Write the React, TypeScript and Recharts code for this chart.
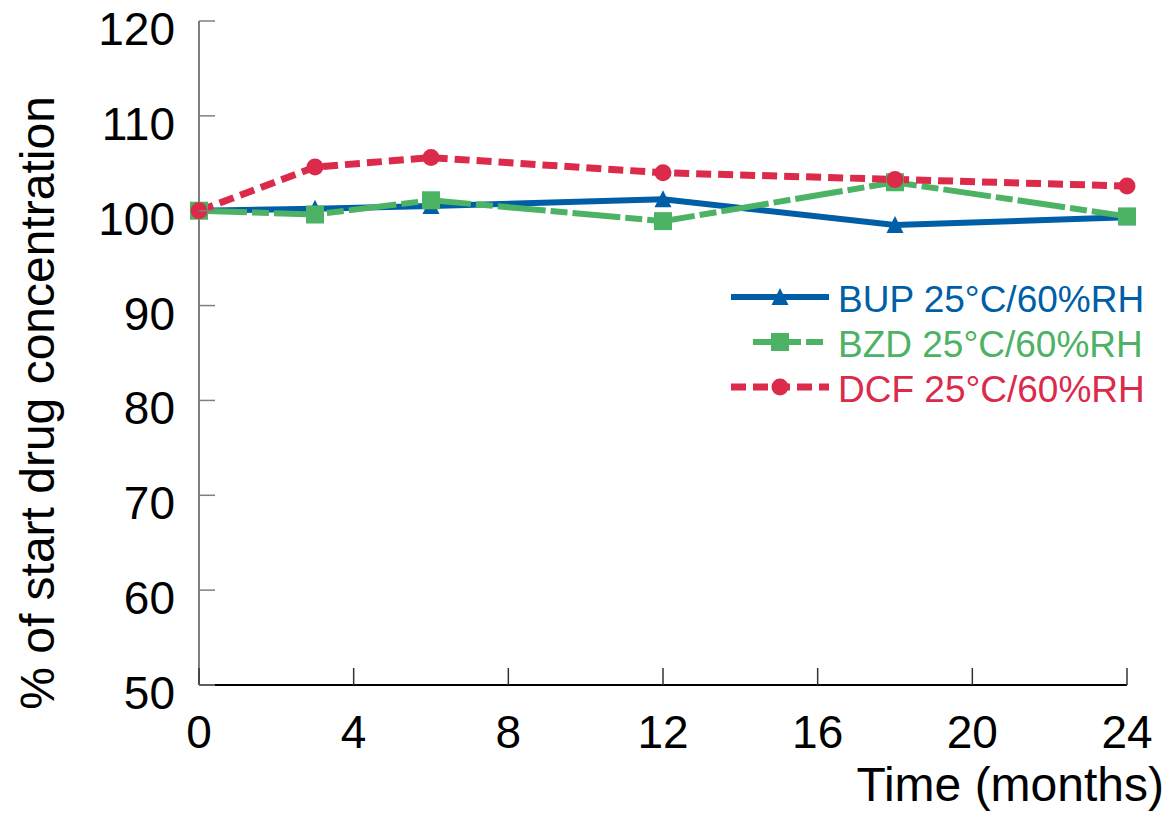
import { LineChart, Line, XAxis, YAxis, Legend } from "recharts";

const months = [0, 3, 6, 12, 18, 24];
const bup = [100, 100.2, 100.5, 101.2, 98.5, 99.3];
const bzd = [100, 99.6, 101.1, 98.9, 103.0, 99.4];
const dcf = [100, 104.6, 105.6, 104.0, 103.3, 102.6];

const xTicks = [0, 4, 8, 12, 16, 20, 24];
const yTicks = [50, 60, 70, 80, 90, 100, 110, 120];

const FONT = "'Liberation Sans', Arial, sans-serif";

const series = [
  { key: "bup", name: "BUP 25°C/60%RH", color: "#005EA6", dash: undefined, width: 6, shape: "triangle" },
  { key: "bzd", name: "BZD 25°C/60%RH", color: "#4CB264", dash: "48 5 17 5", width: 6, shape: "square" },
  { key: "dcf", name: "DCF 25°C/60%RH", color: "#DB2A4A", dash: "15 7", width: 7, shape: "circle" },
];

const data = months.map((m, i) => ({ month: m, bup: bup[i], bzd: bzd[i], dcf: dcf[i] }));

function Marker({ cx, cy, shape, color }: any) {
  if (shape === "triangle") {
    return (
      <polygon
        points={`${cx},${cy - 9} ${cx + 8.5},${cy + 8} ${cx - 8.5},${cy + 8}`}
        fill={color}
      />
    );
  }
  if (shape === "square") {
    return <rect x={cx - 9} y={cy - 9} width={18} height={18} fill={color} />;
  }
  return <circle cx={cx} cy={cy} r={8.5} fill={color} />;
}

const YTick = ({ x, y, payload }: any) => (
  <g>
    <line x1={x} x2={x + 16} y1={y} y2={y} stroke="#7f7f7f" strokeWidth={1.5} />
    <text x={x - 24} y={y + 24} textAnchor="end" fontSize={46} fontFamily={FONT} fill="#000">
      {payload.value}
    </text>
  </g>
);

const XTick = ({ x, y, payload }: any) => (
  <g>
    <line x1={x} x2={x} y1={y} y2={y - 17} stroke="#333" strokeWidth={1.5} />
    <text x={x} y={y + 63} textAnchor="middle" fontSize={46} fontFamily={FONT} fill="#000">
      {payload.value}
    </text>
  </g>
);

function LegendContent() {
  return (
    <svg width={450} height={140}>
      {series.map((s, i) => {
        const cy = 27 + i * 45;
        const x1 = s.shape === "square" ? 33 : 11;
        const x2 = s.shape === "square" ? 104 : 109;
        return (
          <g key={s.key}>
            <line
              x1={x1}
              x2={x2}
              y1={cy}
              y2={cy}
              stroke={s.color}
              strokeWidth={s.width}
              strokeDasharray={s.dash}
            />
            <Marker cx={60} cy={cy} shape={s.shape} color={s.color} />
            <text x={118} y={cy + 15} fontSize={37} fontFamily={FONT} fill={s.color}>
              {s.name}
            </text>
          </g>
        );
      })}
    </svg>
  );
}

export default function App() {
  return (
    <div style={{ position: "absolute", left: 0, top: 0 }}>
      <LineChart
        width={1171}
        height={819}
        data={data}
        margin={{ top: 21, right: 44, bottom: 0, left: 0 }}
      >
        <XAxis
          dataKey="month"
          type="number"
          domain={[0, 24]}
          ticks={xTicks}
          height={134}
          tickSize={0}
          tickMargin={0}
          tickLine={false}
          tick={<XTick />}
          axisLine={{ stroke: "#000", strokeWidth: 2 }}
          label={{
            content: () => (
              <text x={1164} y={801} textAnchor="end" fontSize={48} fontFamily={FONT} fill="#000">
                Time (months)
              </text>
            ),
          }}
        />
        <YAxis
          type="number"
          domain={[50, 120]}
          ticks={yTicks}
          width={199}
          tickSize={0}
          tickMargin={0}
          tickLine={false}
          tick={<YTick />}
          axisLine={{ stroke: "#7f7f7f", strokeWidth: 2 }}
          label={{
            content: () => (
              <text
                x={54}
                y={403}
                transform="rotate(-90, 54, 403)"
                textAnchor="middle"
                fontSize={48}
                fontFamily={FONT}
                fill="#000"
              >
                % of start drug concentration
              </text>
            ),
          }}
        />
        <Legend
          layout="vertical"
          align="center"
          verticalAlign="middle"
          wrapperStyle={{ left: 720, top: 270, width: 450, height: 140 }}
          content={<LegendContent />}
        />
        {series.map((s) => (
          <Line
            key={s.key}
            type="linear"
            dataKey={s.key}
            name={s.name}
            stroke={s.color}
            strokeWidth={s.width}
            strokeDasharray={s.dash}
            isAnimationActive={false}
            dot={(p: any) => (
              <Marker key={`${s.key}-${p.index}`} cx={p.cx} cy={p.cy} shape={s.shape} color={s.color} />
            )}
            activeDot={false}
          />
        ))}
      </LineChart>
    </div>
  );
}
